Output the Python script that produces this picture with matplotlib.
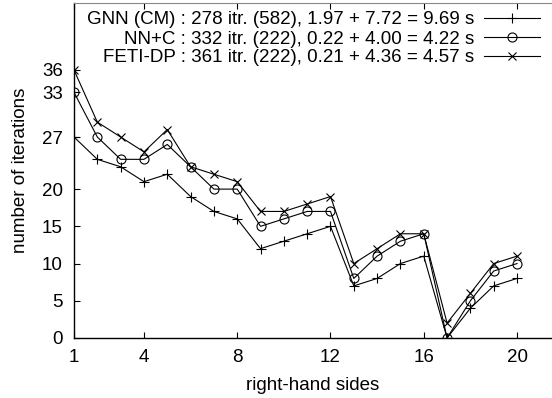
import matplotlib
matplotlib.use("Agg")
import matplotlib.pyplot as plt

plt.rcParams['font.family'] = ['Liberation Sans', 'DejaVu Sans']

rhs = list(range(1, 21))
gnn = [27, 24, 23, 21, 22, 19, 17, 16, 12, 13, 14, 15, 7, 8, 10, 11, 0, 4, 7, 8]
nnc = [33, 27, 24, 24, 26, 23, 20, 20, 15, 16, 17, 17, 8, 11, 13, 14, 0, 5, 9, 10]
feti = [36, 29, 27, 25, 28, 23, 22, 21, 17, 17, 18, 19, 10, 12, 14, 14, 2, 6, 10, 11]

labels = [
    "GNN (CM) : 278 itr. (582), 1.97 + 7.72 = 9.69 s",
    "NN+C : 332 itr. (222), 0.22 + 4.00 = 4.22 s",
    "FETI-DP : 361 itr. (222), 0.21 + 4.36 = 4.57 s",
]
xticks = [1, 4, 8, 12, 16, 20]
yticks = [0, 5, 10, 15, 20, 27, 33, 36]

fs = 13.5
fig = plt.figure(figsize=(5.52, 3.98), dpi=100)
ax = fig.add_axes([74 / 552, 60 / 398, 1 - 74 / 552, (338 - 3) / 398])

lw = 0.8
ax.plot(rhs, gnn, color='black', lw=lw, marker='+', ms=7, mew=0.8, label=labels[0])
ax.plot(rhs, nnc, color='black', lw=lw, marker='o', ms=6.5, mew=0.8, mfc='none', label=labels[1])
ax.plot(rhs, feti, color='black', lw=lw, marker='x', ms=6, mew=0.8, label=labels[2])

ax.set_xlim(1, 21.5)
ax.set_ylim(0, 45)
ax.set_xticks(xticks)
ax.set_yticks(yticks)
ax.tick_params(direction='in', length=4, width=0.8, labelsize=fs, top=True, right=False)
ax.tick_params(axis='x', pad=8)
ax.tick_params(axis='y', pad=8)
ax.spines['right'].set_visible(False)
ax.spines['top'].set_color('#888888')
for s in ['left', 'bottom']:
    ax.spines[s].set_linewidth(1.0)

ax.set_xlabel("right-hand sides", fontsize=fs, labelpad=8)
ax.set_ylabel("number of iterations", fontsize=fs, labelpad=9)

ax.legend(loc='upper right', frameon=False, markerfirst=False, fontsize=fs,
          handlelength=3.0, handletextpad=0.5, labelspacing=0.1,
          borderpad=0, borderaxespad=0, bbox_to_anchor=(0.975, 0.975))

fig.savefig("out.png", dpi=100)
